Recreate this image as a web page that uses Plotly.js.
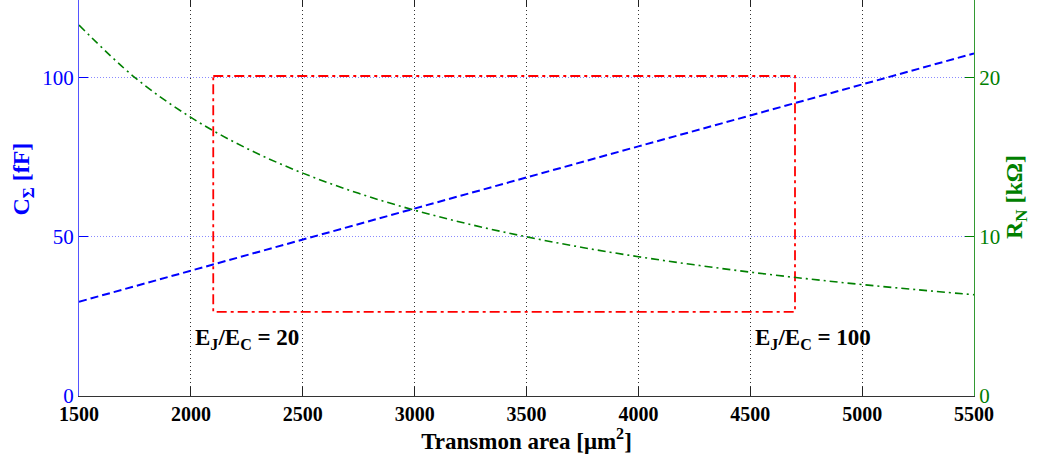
<!DOCTYPE html>
<html>
<head>
<meta charset="utf-8">
<script src="https://cdn.plot.ly/plotly-3.0.1.min.js"></script>
<style>
  html, body { margin: 0; padding: 0; background: #fff; overflow: hidden; }
  #chart { position: absolute; left: 0; top: -2px; width: 1040px; height: 460px; }
</style>
</head>
<body>
<div id="chart"></div>
<script>
// Transmon junction area [µm²]
const areaC = [1500, 2000, 2500, 3000, 3500, 4000, 4500, 5000, 5500];
// Total capacitance C_Σ [fF]
const capacitance = [29.6, 39.4, 49.1, 58.9, 68.6, 78.4, 88.1, 97.9, 107.6];

const areaR = [1500, 1750, 2000, 2250, 2500, 2750, 3000, 3250, 3500, 3750,
               4000, 4250, 4500, 4750, 5000, 5250, 5500];
// Normal-state resistance R_N [kΩ]
const resistance = [23.3, 20.0, 17.5, 15.55, 14.0, 12.73, 11.67, 10.77, 10.0, 9.33,
                    8.75, 8.24, 7.78, 7.37, 7.0, 6.67, 6.36];

// Design window between E_J/E_C = 20 and E_J/E_C = 100
const boxArea = [2100, 4700, 4700, 2100, 2100];
const boxCap = [100.5, 100.5, 26.4, 26.4, 100.5];

const xTicks = [1500, 2000, 2500, 3000, 3500, 4000, 4500, 5000, 5500];
const leftTicks = [0, 50, 100];
const rightTicks = [0, 10, 20];

const serif = '"Liberation Serif", "Times New Roman", serif';
const blue = '#0000ff';
const green = '#008000';

const traces = [
  {
    x: areaC, y: capacitance, type: 'scatter', mode: 'lines', yaxis: 'y',
    line: { color: blue, width: 2, dash: '8px,4px' },
    hoverinfo: 'skip', showlegend: false
  },
  {
    x: areaR, y: resistance, type: 'scatter', mode: 'lines', yaxis: 'y2',
    line: { color: green, width: 1.6, dash: '8px,4px,2px,4px', shape: 'spline' },
    hoverinfo: 'skip', showlegend: false
  },
  {
    x: boxArea, y: boxCap, type: 'scatter', mode: 'lines', yaxis: 'y',
    line: { color: '#ff0000', width: 1.8, dash: '10px,4px,3px,4px' },
    hoverinfo: 'skip', showlegend: false
  }
];

const layout = {
  width: 1040, height: 460,
  margin: { l: 79, r: 66, t: 0, b: 62 },
  paper_bgcolor: '#fff', plot_bgcolor: '#fff',
  font: { family: serif, color: '#000' },
  xaxis: {
    range: [1500, 5500], tickvals: xTicks, ticktext: xTicks.map(String),
    ticks: 'inside', ticklen: 9, tickcolor: '#222', tickwidth: 1,
    showline: true, linecolor: '#333', linewidth: 1, mirror: 'ticks',
    showgrid: true, gridcolor: '#333', griddash: '1px,3px', gridwidth: 1,
    zeroline: false,
    tickfont: { family: serif, size: 20, color: '#000', weight: 'bold' },
    title: { text: 'Transmon area [μm<sup>2</sup>]', standoff: 3,
             font: { family: serif, size: 23, color: '#000', weight: 'bold' } }
  },
  yaxis: {
    range: [0, 125], tickvals: leftTicks, ticktext: leftTicks.map(String),
    ticks: 'inside', ticklen: 9, tickcolor: blue, tickwidth: 1,
    showline: true, linecolor: '#5555ff', linewidth: 1,
    showgrid: true, gridcolor: '#8a8aff', griddash: '1px,2px', gridwidth: 1,
    zeroline: false,
    tickfont: { family: serif, size: 21, color: blue }
  },
  yaxis2: {
    overlaying: 'y', side: 'right', anchor: 'x',
    range: [0, 25], tickvals: rightTicks, ticktext: rightTicks.map(String),
    ticks: 'inside', ticklen: 9, tickcolor: green, tickwidth: 1,
    showline: true, linecolor: '#339933', linewidth: 1,
    showgrid: false, zeroline: false,
    tickfont: { family: serif, size: 21, color: green }
  },
  annotations: [
    // vertical axis labels
    {
      x: -0.062, y: 0.545, xref: 'paper', yref: 'paper', xanchor: 'center', yanchor: 'middle',
      text: 'C<sub>Σ</sub> [fF]', textangle: -90, showarrow: false,
      font: { family: serif, size: 24, color: blue, weight: 'bold' }
    },
    {
      x: 1.047, y: 0.5, xref: 'paper', yref: 'paper', xanchor: 'center', yanchor: 'middle',
      text: 'R<sub>N</sub> [kΩ]', textangle: -90, showarrow: false,
      font: { family: serif, size: 24, color: green, weight: 'bold' }
    },
    // E_J/E_C limits of the design window
    {
      x: 2010, y: 17.8, xref: 'x', yref: 'y', xanchor: 'left', yanchor: 'middle',
      text: 'E<sub>J</sub>/E<sub>C</sub> = 20', showarrow: false,
      font: { family: serif, size: 23, color: '#000', weight: 'bold' }
    },
    {
      x: 4512, y: 17.8, xref: 'x', yref: 'y', xanchor: 'left', yanchor: 'middle',
      text: 'E<sub>J</sub>/E<sub>C</sub> = 100', showarrow: false,
      font: { family: serif, size: 23, color: '#000', weight: 'bold' }
    }
  ]
};

Plotly.newPlot('chart', traces, layout, { staticPlot: true, displayModeBar: false });
</script>
</body>
</html>
